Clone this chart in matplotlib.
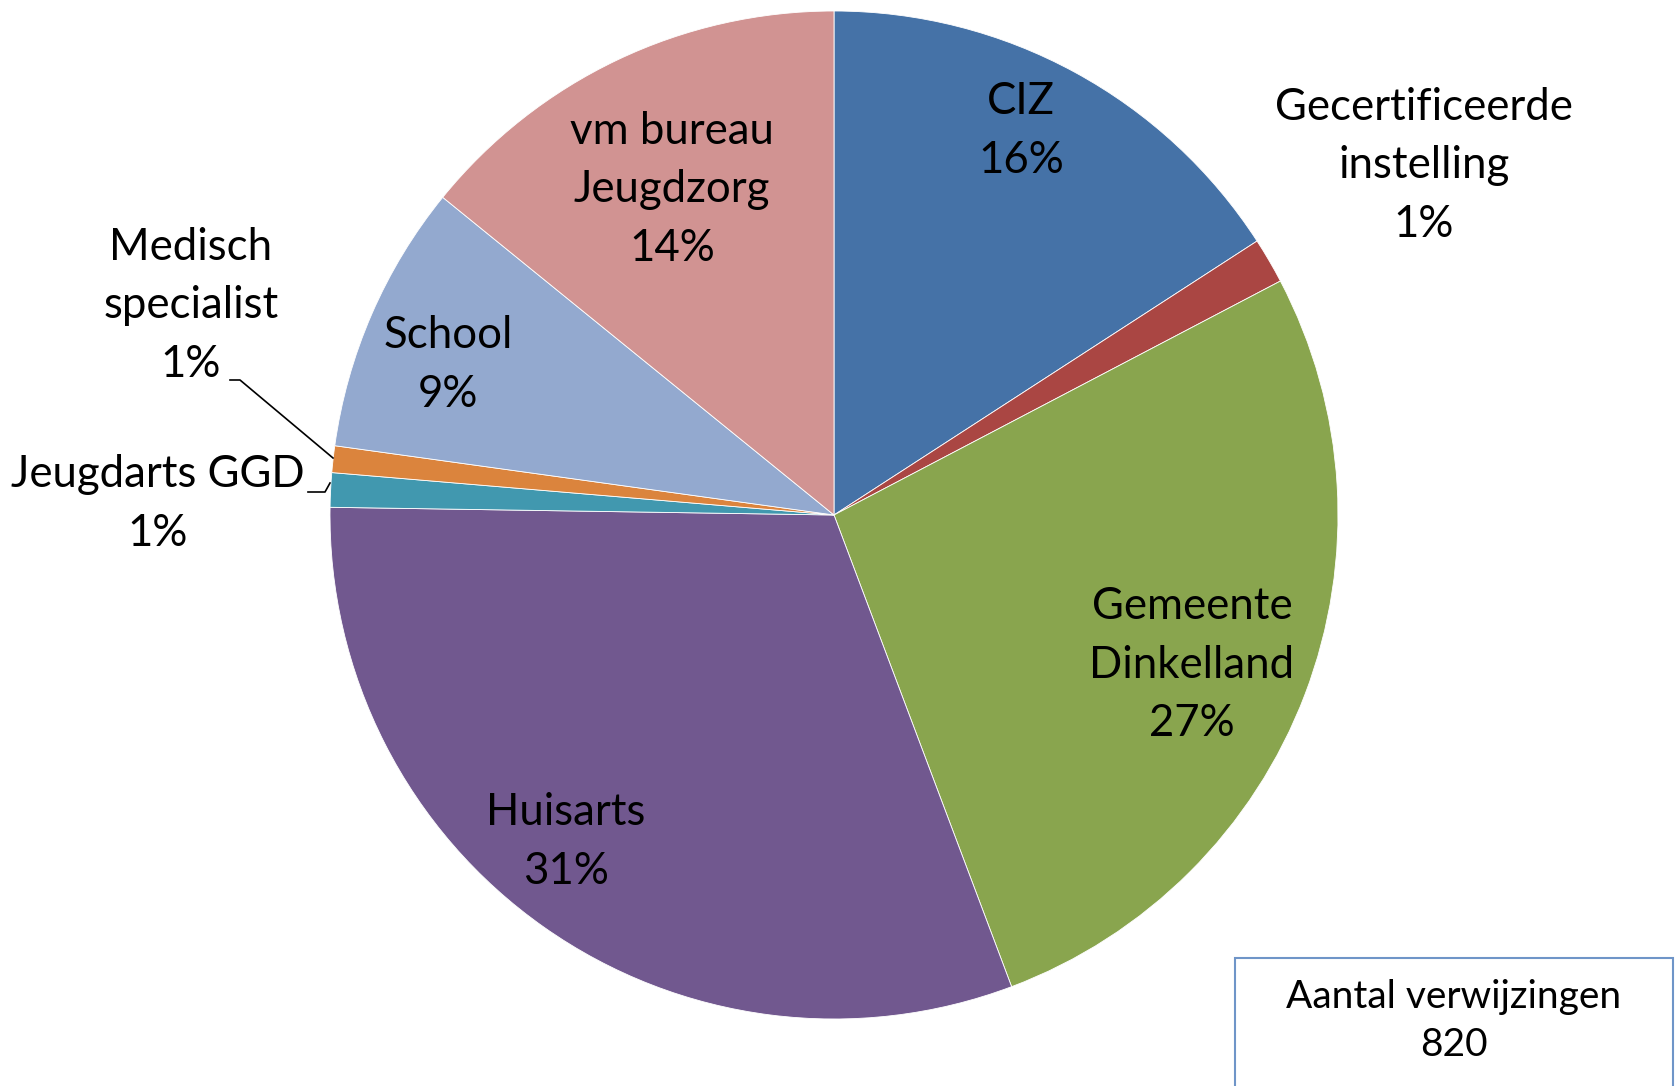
import matplotlib.pyplot as plt

# Verwijzers (aantal verwijzingen, totaal 820)
categories = ['CIZ', 'Gecertificeerde\ninstelling', 'Gemeente\nDinkelland', 'Huisarts',
              'Jeugdarts GGD', 'Medisch\nspecialist', 'School', 'vm bureau\nJeugdzorg']
counts = [130, 12, 221, 254, 9, 7, 71, 116]
colors = ['#4572A7', '#AA4643', '#89A54E', '#71588F',
          '#4198AF', '#DB843D', '#93A9CF', '#D19392']
total = sum(counts)

# label positions in pixels (x, y from top)
label_pos = [(1021, 131), (1424, 166), (1192, 665), (566, 842),
             (158, 504), (191, 306), (448, 365), (672, 190)]

W, H = 1681, 1086
plt.rcParams['font.family'] = ['Lato', 'DejaVu Sans']

fig = plt.figure(figsize=(W / 100, H / 100), dpi=100)
ax = fig.add_axes([0, 0, 1, 1])

ax.pie(counts, colors=colors, startangle=90, counterclock=False,
       center=(834, H - 515), radius=504, frame=True,
       wedgeprops=dict(linewidth=0.6, edgecolor='white'))
ax.set_xlim(0, W)
ax.set_ylim(0, H)
ax.set_aspect('equal')
ax.axis('off')

for cat, c, (px, py) in zip(categories, counts, label_pos):
    pct = round(100 * c / total)
    ax.text(px, H - py, f'{cat}\n{pct}%', ha='center', va='center',
            fontsize=31.5, linespacing=1.52, color='black')

# leader lines for the small slices
ax.plot([230, 240, 333], [H - 380, H - 380, H - 458], color='black', lw=1.2)
ax.plot([308, 325, 330], [H - 492, H - 492, H - 483], color='black', lw=1.2)

# totaal box
box = plt.Rectangle((1235, H - 1100), 438, 1100 - 958, fill=False,
                    edgecolor='#6F95C8', lw=1.5)
ax.add_patch(box)
ax.text(1454, H - 1021, f'Aantal verwijzingen\n{total}', ha='center', va='center',
        fontsize=28, linespacing=1.38, color='black')

fig.savefig('out.png', dpi=100, facecolor='white')
